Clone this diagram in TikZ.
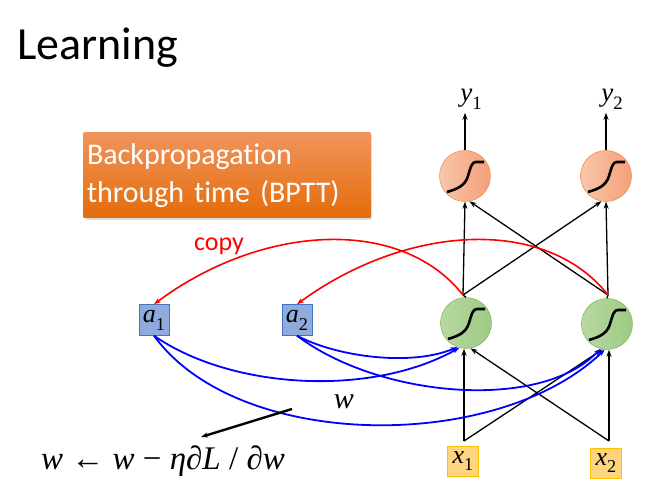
\documentclass[tikz,border=0pt]{standalone}
\usepackage{fontspec}
\setmainfont{Carlito}[Ligatures=NoCommon]
\newfontfamily\tnr{Liberation Serif}
\usetikzlibrary{arrows.meta,shadows}
\definecolor{outL}{HTML}{F9C6AA}
\definecolor{outR}{HTML}{F4A079}
\definecolor{outline}{HTML}{ED7D31}
\definecolor{hidL}{HTML}{B8D8A3}
\definecolor{hidR}{HTML}{9CCB84}
\definecolor{hidline}{HTML}{70AD47}
\definecolor{memfill}{HTML}{8FAADC}
\definecolor{memline}{HTML}{4472C4}
\definecolor{infill}{HTML}{FFD47F}
\definecolor{inline}{HTML}{FFC000}
\definecolor{bpttT}{HTML}{F0945C}
\definecolor{bpttB}{HTML}{E46C0A}
% italic letter with an upright lowered index
\newcommand\idx[2]{{\tnr\itshape #1}\raisebox{-0.3em}{\tnr\scalebox{0.7}{#2}}}
% s-shaped activation drawn inside a neuron
\newcommand\sigcurve[1]{\draw[line width=2.6pt]
  ([shift={(-18,16)}]#1.center) .. controls ([shift={(-8,13)}]#1.center) and ([shift={(0,10)}]#1.center) ..
  ([shift={(3,0)}]#1.center) .. controls ([shift={(6,-10)}]#1.center) and ([shift={(7,-14)}]#1.center) ..
  ([shift={(11,-14)}]#1.center) -- ([shift={(19,-14)}]#1.center);}
\begin{document}
\begin{tikzpicture}[x=1pt,y=-1pt,>={Stealth[length=7pt,width=5pt]},
  neuron/.style={circle, minimum size=51pt, inner sep=0pt},
  outneuron/.style={neuron, draw=outline, left color=outL, right color=outR},
  hidneuron/.style={neuron, draw=hidline, left color=hidL, right color=hidR},
  membox/.style={draw=memline, fill=memfill, minimum width=30pt, minimum height=31pt, inner sep=0pt, font=\fontsize{26}{26}\selectfont},
  inbox/.style={draw=inline, fill=infill, minimum width=31pt, minimum height=30pt, inner sep=0pt, font=\fontsize{26}{26}\selectfont},
  wire/.style={line width=1.3pt, ->},
  copyline/.style={red, line width=1.6pt, ->},
  wline/.style={blue, line width=1.8pt, ->}]
\useasboundingbox (0,0) rectangle (667,494);
\node[anchor=base west, inner sep=0pt, font=\fontsize{46}{46}\selectfont] (title) at (17,60) {Learning};
\node[top color=bpttT, bottom color=bpttB, drop shadow={opacity=0.25, shadow xshift=2pt, shadow yshift=-2pt},
  text=white, text width=280pt, minimum height=85pt, align=left, font=\fontsize{30}{38}\selectfont] (bptt) at (227,175.5) {Backpropagation\\through time (BPTT)};
% network
\node[outneuron] (o1) at (465,176) {};
\node[outneuron] (o2) at (606,176) {};
\node[hidneuron] (g1) at (466,323) {};
\node[hidneuron] (g2) at (607,324) {};
\sigcurve{o1} \sigcurve{o2} \sigcurve{g1} \sigcurve{g2}
\node[font=\fontsize{27}{27}\selectfont] (y1) at (471,99) {\idx{y}{1}};
\node[font=\fontsize{27}{27}\selectfont] (y2) at (612,99) {\idx{y}{2}};
\node[membox] (a1) at (154,320) {\idx{a}{1}};
\node[membox] (a2) at (297,320) {\idx{a}{2}};
\node[inbox] (x1) at (463,461) {\idx{x}{1}};
\node[inbox] (x2) at (606,463) {\idx{x}{2}};
\coordinate (x1top) at (464,441);
\coordinate (x2top) at (609,441);
\coordinate (h1) at (463,295);
\coordinate (h2) at (608,295);
\draw[wire] (o1.north) -- (o1.north |- y1.south);
\draw[wire] (o2.north) -- (o2.north |- y2.south);
\draw[line width=1.3pt] (g1.north) -- (h1);
\draw[line width=1.3pt] (g2.north) -- (h2);
\draw[wire] (h1) -- (o1.south);
\draw[wire] (h1) -- (o2.-100);
\draw[wire] (h2) -- (o2.south);
\draw[wire] (h2) -- (o1.-80);
\draw[wire] (x1top) -- (x1top |- g1.south);
\draw[wire] (x1top) -- (g2.-100);
\draw[wire] (x2top) -- (x2top |- g2.south);
\draw[wire] (x2top) -- (g1.-80);
% copy to memory
\draw[copyline] (h1) .. controls (400,215) and (260,225) .. (a1.north);
\draw[copyline] (h2) .. controls (545,215) and (405,225) .. (a2.north);
\node[red, font=\fontsize{26}{26}\selectfont] (copy) at (219,246) {copy};
% recurrent weights
\draw[wline] (a1.south) .. controls +(76,53) and +(-90,50) .. (g1.-105);
\draw[wline] (a1.south) .. controls +(84,116) and +(-107,103) .. (g2.-95);
\draw[wline] (a2.south) .. controls +(42,22) and +(-45,19) .. (g1.-110);
\draw[wline] (a2.south) .. controls +(82,62) and +(-60,63) .. (g2.-105);
\node[font=\fontsize{30}{30}\selectfont\tnr\itshape] (w) at (344,402) {w};
\node[font=\fontsize{33}{33}\selectfont\tnr] (upd) at (163,461) {\textit{w} ← \textit{w} − \textit{η∂L} / \textit{∂w}};
\coordinate (wpt) at (292,409);
\coordinate (wtip) at (201,437);
\draw[line width=2.4pt, ->] (wpt) -- (wtip);
\end{tikzpicture}
\end{document}
